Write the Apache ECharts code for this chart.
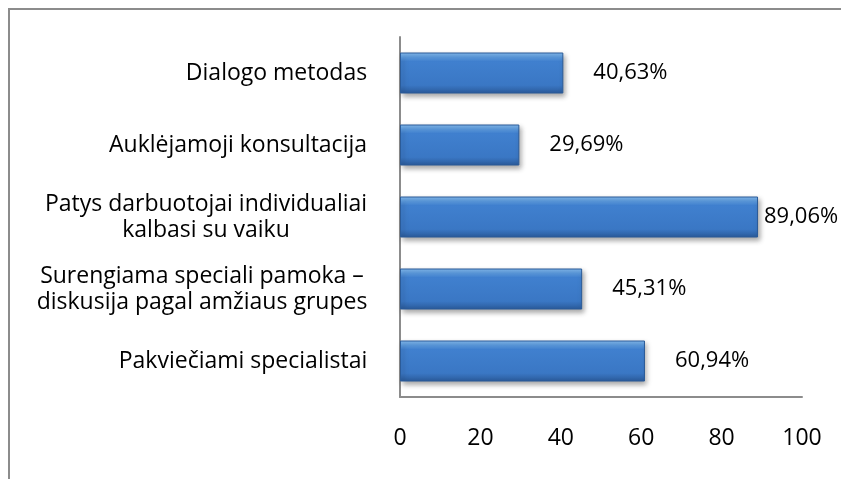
<!DOCTYPE html>
<html>
<head>
<meta charset="utf-8">
<script src="https://cdn.jsdelivr.net/npm/echarts@6/dist/echarts.min.js"></script>
<style>
  html, body { margin: 0; padding: 0; background: #fff; }
  #chart { width: 841px; height: 479px; }
</style>
</head>
<body>
<div id="chart"></div>
<script>
// categories, top to bottom
var categories = [
  'Dialogo metodas',
  'Auklėjamoji konsultacija',
  'Patys darbuotojai individualiai\nkalbasi su vaiku',
  'Surengiama speciali pamoka –\ndiskusija pagal amžiaus grupes',
  'Pakviečiami specialistai'
];
var values = [40.63, 29.69, 89.06, 45.31, 60.94];
var xTicks = [0, 20, 40, 60, 80, 100];

const FONT = '"Open Sans", sans-serif';
const LABEL_SIZE = 23;

// multi-line labels: lines centered inside the block, block right aligned
var measureCtx = document.createElement('canvas').getContext('2d');
measureCtx.font = LABEL_SIZE + 'px ' + FONT;
var rich = {};
categories.forEach(function (c, i) {
  var w = 0;
  c.split('\n').forEach(function (line) {
    w = Math.max(w, measureCtx.measureText(line).width);
  });
  rich['c' + i] = {
    width: Math.ceil(w) + 1,
    align: 'center',
    fontSize: LABEL_SIZE,
    fontFamily: FONT,
    color: '#000',
    lineHeight: 26
  };
});

var barColor = new echarts.graphic.LinearGradient(0, 0, 0, 1, [
  { offset: 0, color: '#86bdf0' },
  { offset: 0.12, color: '#5b9be0' },
  { offset: 0.22, color: '#4080cf' },
  { offset: 0.8, color: '#3a77c4' },
  { offset: 1, color: '#2a5a99' }
]);

var seriesData = values.map(function (v, i) {
  var item = { value: v };
  //最长的条形标签挤在右边
  if (i === 2) {
    item.label = { distance: 6 };
  }
  return item;
});

var chart = echarts.init(document.getElementById('chart'), null, { renderer: 'canvas' });

var option = {
  backgroundColor: '#fff',
  animation: false,
  // 外框只露出左边和上边
  graphic: [{
    type: 'polyline',
    shape: { points: [[9, 600], [9, 9], [900, 9]] },
    style: { fill: null, stroke: '#8c8c8c', lineWidth: 2 },
    silent: true
  }],
  grid: {
    left: 400,
    right: 39,
    top: 37,
    bottom: 82
  },
  xAxis: {
    type: 'value',
    min: 0,
    max: 100,
    interval: 20,
    axisLine: { show: true, lineStyle: { color: '#8c8c8c', width: 2 } },
    axisTick: { show: false },
    splitLine: { show: false },
    axisLabel: {
      margin: 30,
      fontSize: 23,
      fontFamily: FONT,
      color: '#000',
      formatter: function (v) {
        return xTicks.indexOf(v) >= 0 ? String(v) : '';
      }
    }
  },
  yAxis: {
    type: 'category',
    inverse: true,
    data: categories,
    axisLine: { show: true, lineStyle: { color: '#8c8c8c', width: 2 } },
    axisTick: { show: false },
    axisLabel: {
      margin: 32,
      align: 'right',
      formatter: function (value, idx) {
        return value.split('\n').map(function (line) {
          return '{c' + idx + '|' + line + '}';
        }).join('\n');
      },
      rich: rich
    }
  },
  series: [{
    type: 'bar',
    data: seriesData,
    barWidth: 41,
    itemStyle: {
      color: barColor,
      borderColor: '#2b5b98',
      borderWidth: 1,
      shadowColor: 'rgba(0,0,0,0.35)',
      shadowBlur: 5,
      shadowOffsetX: 2,
      shadowOffsetY: 3
    },
    label: {
      show: true,
      position: 'right',
      distance: 30,
      fontSize: 22,
      fontFamily: FONT,
      color: '#000',
      formatter: function (p) {
        return p.value.toFixed(2).replace('.', ',') + '%';
      }
    }
  }]
};

chart.setOption(option);
</script>
</body>
</html>
